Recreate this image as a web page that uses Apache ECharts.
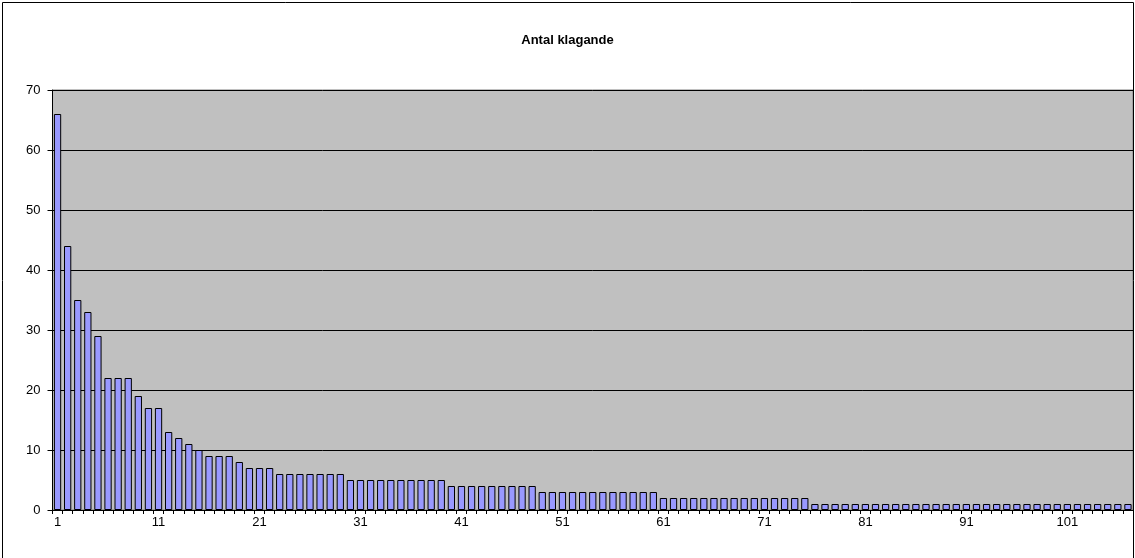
<!DOCTYPE html>
<html>
<head>
<meta charset="utf-8">
<script src="https://cdn.jsdelivr.net/npm/echarts@6/dist/echarts.min.js"></script>
<style>
  html, body { margin: 0; padding: 0; background: #fff; }
  #chart { width: 1135px; height: 558px; }
</style>
</head>
<body>
<div id="chart"></div>
<script>
// Category numbers along the x axis
const categories = [
  '1','2','3','4','5','6','7','8','9','10',
  '11','12','13','14','15','16','17','18','19','20',
  '21','22','23','24','25','26','27','28','29','30',
  '31','32','33','34','35','36','37','38','39','40',
  '41','42','43','44','45','46','47','48','49','50',
  '51','52','53','54','55','56','57','58','59','60',
  '61','62','63','64','65','66','67','68','69','70',
  '71','72','73','74','75','76','77','78','79','80',
  '81','82','83','84','85','86','87','88','89','90',
  '91','92','93','94','95','96','97','98','99','100',
  '101','102','103','104','105','106','107'
];

// Number of complainants per category
const klagande = [
  66, 44, 35, 33, 29, 22, 22, 22, 19, 17,
  17, 13, 12, 11, 10, 9, 9, 9, 8, 7,
  7, 7, 6, 6, 6, 6, 6, 6, 6, 5,
  5, 5, 5, 5, 5, 5, 5, 5, 5, 4,
  4, 4, 4, 4, 4, 4, 4, 4, 3, 3,
  3, 3, 3, 3, 3, 3, 3, 3, 3, 3,
  2, 2, 2, 2, 2, 2, 2, 2, 2, 2,
  2, 2, 2, 2, 2, 1, 1, 1, 1, 1,
  1, 1, 1, 1, 1, 1, 1, 1, 1, 1,
  1, 1, 1, 1, 1, 1, 1, 1, 1, 1,
  1, 1, 1, 1, 1, 1, 1
];

const yTicks = { min: 0, max: 70, step: 10 };

const FONT = '"Liberation Sans", Arial, sans-serif';

const chart = echarts.init(document.getElementById('chart'), null, { renderer: 'canvas' });

chart.setOption({
  animation: false,
  backgroundColor: '#ffffff',
  title: {
    text: 'Antal klagande',
    left: 'center',
    top: 29,
    textStyle: { fontFamily: FONT, fontSize: 13, fontWeight: 'bold', color: '#000' }
  },
  graphic: [{
    type: 'rect',
    silent: true,
    shape: { x: 2.5, y: 2.5, width: 1131, height: 556 },
    style: { fill: 'none', stroke: '#000', lineWidth: 1 }
  }],
  grid: {
    left: 52.5,
    right: 2,
    top: 90,
    bottom: 48,
    show: true,
    backgroundColor: '#C0C0C0',
    borderColor: '#808080',
    borderWidth: 1
  },
  xAxis: {
    type: 'category',
    data: categories,
    boundaryGap: true,
    axisLine: { lineStyle: { color: '#000', width: 1 } },
    axisTick: { show: true, interval: 0, length: 4, lineStyle: { color: '#000' } },
    axisLabel: {
      interval: 9,
      margin: 6,
      fontFamily: FONT,
      fontSize: 13,
      color: '#000'
    },
    splitLine: { show: false }
  },
  yAxis: {
    type: 'value',
    min: yTicks.min,
    max: yTicks.max,
    interval: yTicks.step,
    axisLine: { show: true, lineStyle: { color: '#000', width: 1 } },
    axisTick: { show: true, length: 5, lineStyle: { color: '#000' } },
    axisLabel: {
      margin: 12,
      fontFamily: FONT,
      fontSize: 13,
      color: '#000'
    },
    splitLine: { show: true, lineStyle: { color: '#000', width: 1 } }
  },
  series: [{
    type: 'bar',
    data: klagande,
    barCategoryGap: '28%',
    itemStyle: { color: '#9999FF', borderColor: '#000', borderWidth: 1 }
  }]
});
</script>
</body>
</html>
